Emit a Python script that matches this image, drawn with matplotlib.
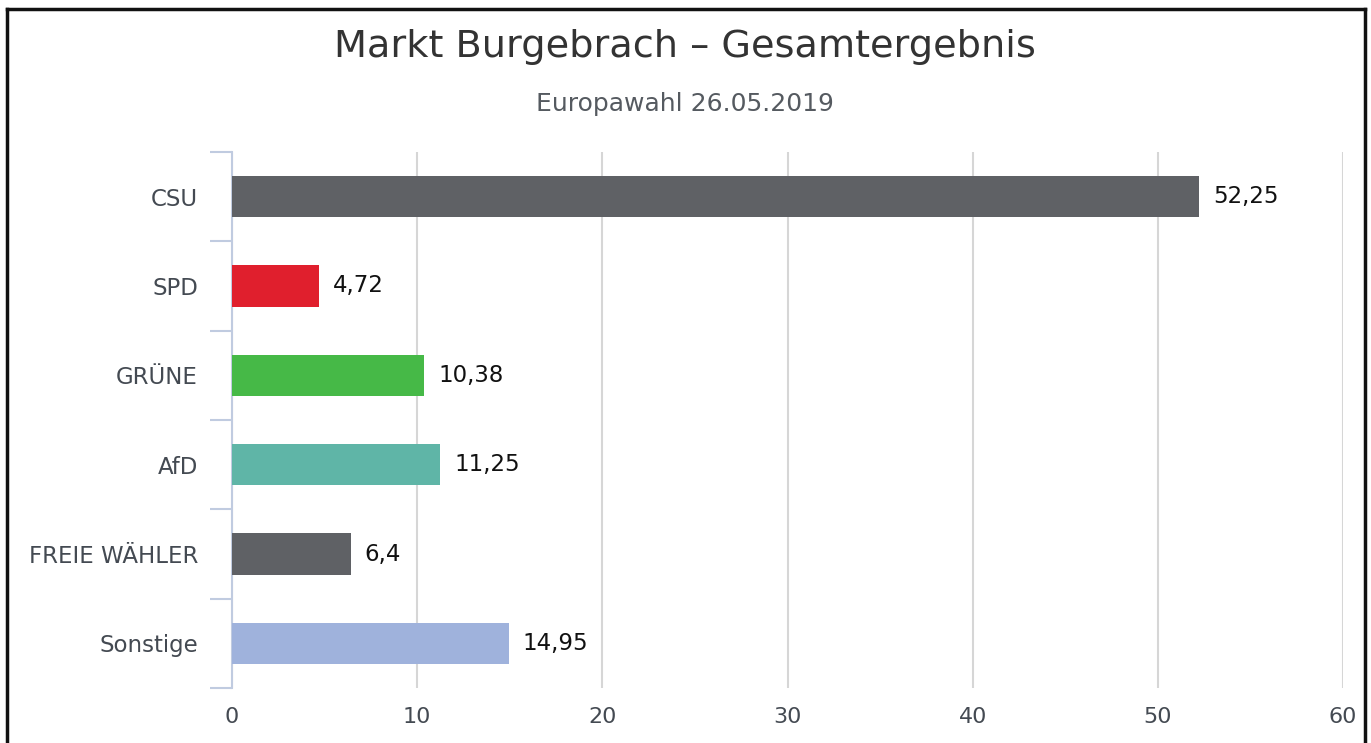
import matplotlib
matplotlib.use("Agg")
import matplotlib.pyplot as plt
from matplotlib.lines import Line2D

categories = ["CSU", "SPD", "GRÜNE", "AfD", "FREIE WÄHLER", "Sonstige"]
values = [52.25, 4.72, 10.38, 11.25, 6.4, 14.95]
labels = ["52,25", "4,72", "10,38", "11,25", "6,4", "14,95"]
colors = ["#5f6165", "#e01f2d", "#46b947", "#5fb5a7", "#5f6165", "#9fb2dc"]
xticks = [0, 10, 20, 30, 40, 50, 60]

plt.rcParams['font.family'] = ['DejaVu Sans']

fig = plt.figure(figsize=(13.71, 7.43), dpi=100)
W, H = 1371, 743
ax = fig.add_axes([232/W, 1-688/H, (1343-232)/W, (688-152)/H])

ypos = list(range(len(categories)))
ax.barh(ypos, values, height=0.46, color=colors, zorder=3)
for y, v, lab in zip(ypos, values, labels):
    ax.annotate(lab, (v, y), xytext=(10, 0), textcoords="offset points",
                va="center", ha="left", fontsize=16.5, color="#111111")

ax.set_xlim(0, 60)
ax.set_ylim(len(categories)-0.5, -0.5)
ax.set_xticks(xticks)
ax.set_xticklabels([str(t) for t in xticks], fontsize=16, color="#444a52")
ax.set_yticks(ypos)
ax.set_yticklabels(categories, fontsize=16.5, color="#444a52")
ax.set_yticks([i-0.5 for i in range(len(categories)+1)], minor=True)
ax.tick_params(axis="y", which="major", length=0, pad=24.5)
ax.tick_params(axis="y", which="minor", length=16, color="#c0cbe0", width=1.5)
ax.tick_params(axis="x", length=0, pad=14)
ax.grid(axis="x", color="#d6d6d6", linewidth=1.5, zorder=0)
for s in ["top", "right", "bottom"]:
    ax.spines[s].set_visible(False)
ax.spines["left"].set_color("#c0cbe0")
ax.spines["left"].set_linewidth(1.5)

fig.text(685/W, 1-47/H, "Markt Burgebrach – Gesamtergebnis", ha="center", va="center",
         fontsize=27.5, color="#333333")
fig.text(685/W, 1-104/H, "Europawahl 26.05.2019", ha="center", va="center",
         fontsize=18, color="#555a60")

# frame border
bl = dict(color="#111111", linewidth=2.5, transform=fig.transFigure, solid_capstyle="projecting")
fig.add_artist(Line2D([7/W, 1365/W], [1-9/H, 1-9/H], **bl))
fig.add_artist(Line2D([7/W, 7/W], [1-9/H, 0], **bl))
fig.add_artist(Line2D([1365/W, 1365/W], [1-9/H, 0], **bl))

fig.savefig("out.png", dpi=100)
